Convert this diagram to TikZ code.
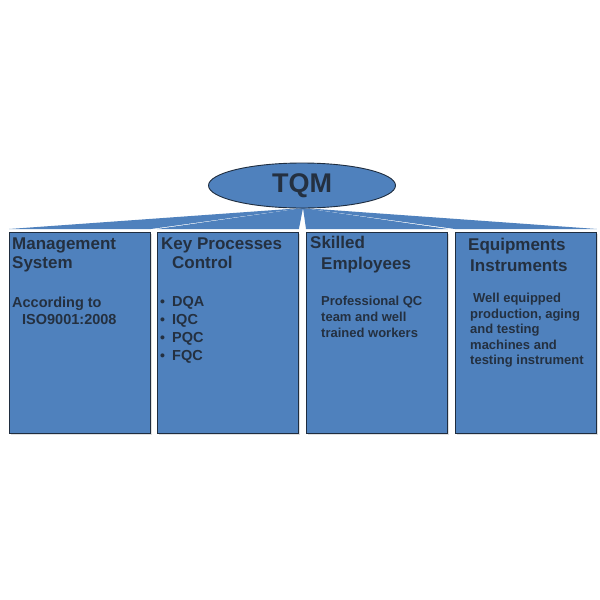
\documentclass[tikz,border=0pt]{standalone}
\usepackage{fontspec}
\setmainfont{Liberation Sans}
\usetikzlibrary{shapes.geometric,shadows}
\definecolor{boxblue}{HTML}{4F81BD}
\definecolor{edgedark}{HTML}{1F2D3F}
\definecolor{txtdark}{HTML}{243040}
\tikzset{
  panel/.style={rectangle, draw=edgedark, line width=0.9pt, fill=boxblue, inner sep=0pt,
    minimum width=141pt, minimum height=201pt, anchor=north west,
    drop shadow={opacity=0.25, shadow xshift=1.2pt, shadow yshift=-1.2pt}},
  wedge/.style={fill=boxblue, draw=none},
  head/.style={anchor=base west, inner sep=0pt, text=txtdark, font=\bfseries\fontsize{17}{20}\selectfont},
  body/.style={anchor=base west, inner sep=0pt, text=txtdark, font=\bfseries\fontsize{13}{15}\selectfont},
  bodybig/.style={anchor=base west, inner sep=0pt, text=txtdark, font=\bfseries\fontsize{14.5}{17}\selectfont},
  dot/.style={anchor=base west, inner sep=0pt, text=txtdark, font=\bfseries\fontsize{14}{16}\selectfont}
}
\begin{document}
\begin{tikzpicture}[x=1pt,y=-1pt]
\useasboundingbox[fill=white] (0,0) rectangle (600,600);
% boxes
\node[panel] (b1) at (9,232) {};
\node[panel] (b2) at (157,232) {};
\node[panel] (b3) at (306,232) {};
\node[panel] (b4) at (455,232) {};
% top ellipse position
\coordinate (apex) at (303,208);
% wedges (connectors)
\fill[wedge] (apex) -- ([yshift=3pt]b1.north west) -- ([yshift=3pt]b1.north east) -- cycle;
\fill[wedge] (apex) -- ([yshift=3pt]b2.north west) -- ([yshift=3pt]b2.north east) -- cycle;
\fill[wedge] (apex) -- ([yshift=3pt]b3.north west) -- ([yshift=3pt]b3.north east) -- cycle;
\fill[wedge] (apex) -- ([yshift=3pt]b4.north west) -- ([yshift=3pt]b4.north east) -- cycle;
% ellipse
\node[ellipse, draw=edgedark, line width=0.9pt, fill=boxblue, minimum width=187pt, minimum height=45pt, inner sep=0pt,
  text=txtdark, font=\bfseries\fontsize{27}{30}\selectfont] (tqm) at (302,185.5) {TQM};
% box 1
\node[head] (t1a) at (12,249) {Management};
\node[head] (t1b) at (12,268) {System};
\node[bodybig] (t1c) at (12,307) {According to};
\node[bodybig] (t1d) at (22,324) {ISO9001:2008};
% box 2
\node[head] (t2a) at (161,249) {Key Processes};
\node[head] (t2b) at (172,268) {Control};
\node[dot] (d1) at (160,306) {•};
\node[bodybig] (t2c) at (172,306) {DQA};
\node[dot] (d2) at (160,324) {•};
\node[bodybig] (t2d) at (172,324) {IQC};
\node[dot] (d3) at (160,342) {•};
\node[bodybig] (t2e) at (172,342) {PQC};
\node[dot] (d4) at (160,360) {•};
\node[bodybig] (t2f) at (172,360) {FQC};
% box 3
\node[head] (t3a) at (310,248) {Skilled};
\node[head] (t3b) at (321,269) {Employees};
\node[body] (t3c) at (321,305) {Professional QC};
\node[body] (t3d) at (321,321) {team and well};
\node[body] (t3e) at (321,337) {trained workers};
% box 4
\node[head] (t4a) at (468,250) {Equipments};
\node[head] (t4b) at (470,271) {Instruments};
\node[body] (t4c) at (473,302) {Well equipped};
\node[body] (t4d) at (470,318) {production, aging};
\node[body] (t4e) at (470,333) {and testing};
\node[body] (t4f) at (470,349) {machines and};
\node[body] (t4g) at (470,364) {testing instrument};
\end{tikzpicture}
\end{document}
